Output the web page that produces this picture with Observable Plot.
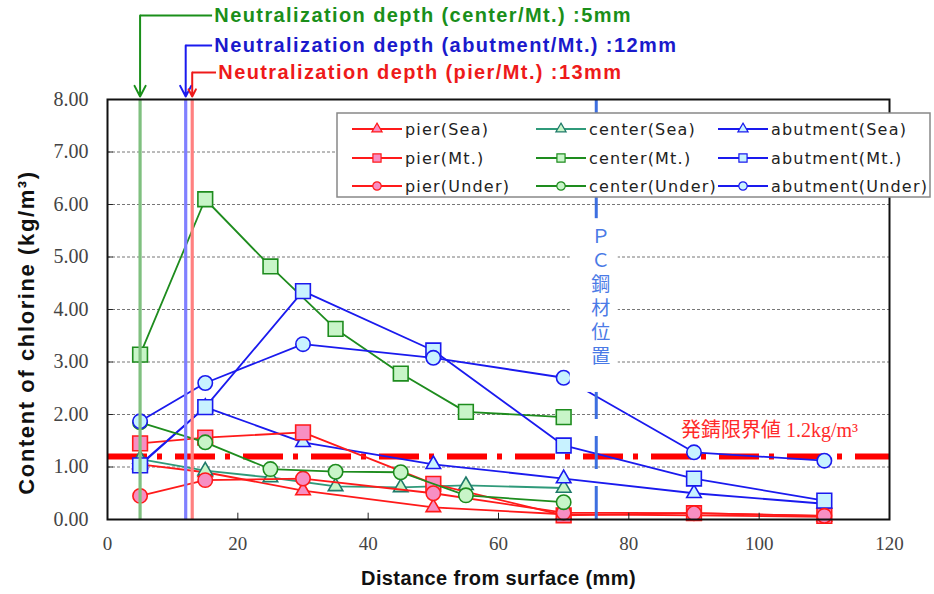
<!DOCTYPE html>
<html><head><meta charset="utf-8">
<script src="https://cdn.jsdelivr.net/npm/d3@7"></script>
<script src="https://cdn.jsdelivr.net/npm/@observablehq/plot@0.6"></script>
<style>body{margin:0;background:#fff}</style>
</head><body><div id="chart"></div>
<script>
// ---- data ----
const pierDepths   = [5, 15, 30, 50, 70, 90, 110];
const centerDepths = [5, 15, 25, 35, 45, 55, 70];
const abutDepths   = [5, 15, 30, 50, 70, 90, 110];

const pierSea     = [1.05, 0.90, 0.55, 0.23, 0.10, 0.08, 0.05];
const pierMt      = [1.45, 1.56, 1.66, 0.68, 0.08, 0.12, 0.07];
const pierUnder   = [0.45, 0.75, 0.78, 0.50, 0.13, 0.12, 0.07];
const centerSea   = [1.15, 0.93, 0.80, 0.63, 0.61, 0.65, 0.60];
const centerMt    = [3.14, 6.10, 4.82, 3.63, 2.78, 2.05, 1.95];
const centerUnder = [1.85, 1.47, 0.96, 0.91, 0.90, 0.46, 0.33];
const abutSea     = [1.05, 2.14, 1.47, 1.05, 0.78, 0.50, 0.30];
const abutMt      = [1.03, 2.14, 4.35, 3.22, 1.41, 0.78, 0.36];
const abutUnder   = [1.87, 2.60, 3.34, 3.08, 2.70, 1.28, 1.12];

const xTicks = [0, 20, 40, 60, 80, 100, 120];
const yTicks = [0, 1, 2, 3, 4, 5, 6, 7, 8];

const neutralDepths = [5, 12, 13];
const neutralLabels = [
  "Neutralization depth (center/Mt.) :5mm",
  "Neutralization depth (abutment/Mt.) :12mm",
  "Neutralization depth (pier/Mt.) :13mm"
];
const pcPosition = 75;
const pcLabel = "ＰＣ鋼材位置";
const threshold = 1.2;
const thresholdLabel = "発錆限界値 1.2kg/m³";

// ---- styles ----
const RED = "#ff1a1a", PINK = "#f78fc3";
const TEAL = "#2f9a7a", TEALDK = "#1f7a6a", LGREEN = "#c8f5c8";
const GREEN = "#1e8c1e";
const BLUE = "#1a1aee", LCYAN = "#c8f2ff";

const series = [
  {name: "pier(Sea)",       xs: pierDepths,   ys: pierSea,     line: RED,   stroke: RED,    fill: PINK,   symbol: "triangle"},
  {name: "center(Sea)",     xs: centerDepths, ys: centerSea,   line: TEAL,  stroke: TEALDK, fill: LGREEN, symbol: "triangle"},
  {name: "abutment(Sea)",   xs: abutDepths,   ys: abutSea,     line: BLUE,  stroke: BLUE,   fill: LCYAN,  symbol: "triangle"},
  {name: "pier(Mt.)",       xs: pierDepths,   ys: pierMt,      line: RED,   stroke: RED,    fill: PINK,   symbol: "square"},
  {name: "center(Mt.)",     xs: centerDepths, ys: centerMt,    line: GREEN, stroke: GREEN,  fill: LGREEN, symbol: "square"},
  {name: "abutment(Mt.)",   xs: abutDepths,   ys: abutMt,      line: BLUE,  stroke: BLUE,   fill: LCYAN,  symbol: "square"},
  {name: "pier(Under)",     xs: pierDepths,   ys: pierUnder,   line: RED,   stroke: RED,    fill: PINK,   symbol: "circle"},
  {name: "center(Under)",   xs: centerDepths, ys: centerUnder, line: GREEN, stroke: GREEN,  fill: LGREEN, symbol: "circle"},
  {name: "abutment(Under)", xs: abutDepths,   ys: abutUnder,   line: BLUE,  stroke: BLUE,   fill: LCYAN,  symbol: "circle"}
];
const symR = {triangle: 5.4, square: 8.3, circle: 7.2};
const neutralColors = ["#7fc07f", "#8080ff", "#ff8080"];
const neutralTextColors = ["#1a8f1a", "#1a1acc", "#ee1a1a"];
const neutralArrowColors = ["#1a8f1a", "#1a1aee", "#ee1a1a"];

const W = 934, H = 594;
const mL = 107, mR = 45, mT = 99, mB = 75;
const ypx = v => 8 + (mT - v) / ((H - mT - mB) / 8); // pixel row above frame -> y value

const marks = [];
// grid
marks.push(Plot.ruleY(yTicks.filter(d => d > 0 && d < 8), {stroke: "#777", strokeWidth: 1, strokeDasharray: "3,2"}));
// threshold line
marks.push(Plot.ruleY([threshold], {stroke: "#ff0000", strokeWidth: 6, strokeDasharray: "40,10,5,13"}));
// series
for (const s of series) {
  const data = s.xs.map((x, i) => ({x, y: s.ys[i]}));
  marks.push(Plot.line(data, {x: "x", y: "y", stroke: s.line, strokeWidth: 1.8}));
  marks.push(Plot.dot(data, {x: "x", y: "y", symbol: s.symbol, r: symR[s.symbol], fill: s.fill, stroke: s.stroke, strokeWidth: 1.6}));
}
// neutralization vertical lines
neutralDepths.forEach((d, i) => {
  marks.push(Plot.ruleX([d], {y1: 0, y2: 8, stroke: neutralColors[i], strokeWidth: 3.2}));
});
// PC steel dashed line
marks.push(Plot.ruleX([pcPosition], {y1: 0, y2: 8, stroke: "#3d6fe0", strokeWidth: 3, strokeDasharray: "33,17"}));
// inner ticks
marks.push(Plot.ruleX(xTicks.filter(d => d > 0 && d < 120), {y1: 0, y2: 0.12, stroke: "#222", strokeWidth: 1}));
marks.push(Plot.ruleY(yTicks.filter(d => d > 0 && d < 8), {x1: 0, x2: 0.9, stroke: "#222", strokeWidth: 1}));
// frame
marks.push(Plot.frame({stroke: "#111", strokeWidth: 2}));
// axes
marks.push(Plot.axisY({ticks: yTicks, tickFormat: d3.format(".2f"), tickSize: 0, tickPadding: 19, label: null,
  fontSize: 20, fontFamily: "Liberation Serif, serif", fill: "#444"}));
marks.push(Plot.axisX({ticks: xTicks, tickSize: 0, tickPadding: 17, label: null,
  fontSize: 19, fontFamily: "Liberation Serif, serif", fill: "#444"}));
// axis titles
marks.push(Plot.text(["Content of chlorine (kg/m³)"], {frameAnchor: "left", textAnchor: "middle", dx: -81, dy: 23, rotate: -90,
  fontSize: 22, fontWeight: "bold", fontFamily: "Liberation Sans, sans-serif", fill: "#111"}));
marks.push(Plot.text(["Distance from surface (mm)"], {frameAnchor: "bottom", dy: 65,
  fontSize: 20, fontWeight: "bold", fontFamily: "Liberation Sans, sans-serif", fill: "#111"}));
// threshold label
marks.push(Plot.text([thresholdLabel], {x: 88, y: threshold, dy: -26, textAnchor: "start",
  fontSize: 20, fontFamily: "Liberation Serif, Noto Sans CJK JP, serif", fill: "#ff2a2a"}));
// neutralization annotations above the frame
const annRows = [15, 45, 72];
const annTextX = [16.4, 16.4, 17.0];
neutralDepths.forEach((d, i) => {
  const yv = ypx(annRows[i]);
  marks.push(Plot.link([0], {x1: d, x2: annTextX[i] - 0.35, y1: yv, y2: yv, stroke: neutralArrowColors[i], strokeWidth: 2}));
  marks.push(Plot.arrow([0], {x1: d, x2: d, y1: yv, y2: ypx(96), stroke: neutralArrowColors[i], strokeWidth: 2, headLength: 9, headAngle: 55}));
  marks.push(Plot.text([neutralLabels[i]], {x: annTextX[i], y: yv, textAnchor: "start", fontSize: 20, fontWeight: "bold",
    fontFamily: "Liberation Sans, sans-serif", fill: neutralTextColors[i]}));
});

const plot = Plot.plot({
  width: W, height: H,
  marginLeft: mL, marginRight: mR, marginTop: mT, marginBottom: mB,
  x: {domain: [0, 120], ticks: xTicks},
  y: {domain: [0, 8], ticks: yTicks},
  style: {background: "#fff", overflow: "visible"},
  marks
});
document.getElementById("chart").appendChild(plot);

const svg = d3.select(plot);
// letter spacing tweaks for annotation / title texts
svg.selectAll("text").filter(function() { return this.textContent.startsWith("Neutralization"); })
  .style("letter-spacing", "1.4px");
svg.selectAll("text").filter(function() { return this.textContent.startsWith("Content of"); })
  .style("letter-spacing", "1.6px");
svg.selectAll("text").filter(function() { return this.textContent.startsWith("Distance"); })
  .style("letter-spacing", "0.4px");

// ---- overlays: PC label box and legend ----
const sx = plot.scale("x"), sy = plot.scale("y");
const pcX = sx.apply(pcPosition);
const g1 = svg.append("g");
g1.append("rect").attr("x", pcX - 26).attr("y", sy.apply(5.73)).attr("width", 48)
  .attr("height", sy.apply(2.42) - sy.apply(5.73)).attr("fill", "#fff");
g1.append("text").attr("x", pcX + 5).attr("y", sy.apply(5.73) + 8)
  .attr("text-anchor", "start").style("writing-mode", "vertical-rl").style("letter-spacing", "5px")
  .attr("font-size", 19).attr("font-family", "Noto Sans CJK JP, sans-serif").attr("fill", "#4a7ae6").text(pcLabel);

const lg = svg.append("g");
const boxX = 337, boxY = 113, boxW = 593, boxH = 84;
lg.append("rect").attr("x", boxX).attr("y", boxY).attr("width", boxW).attr("height", boxH)
  .attr("fill", "#fff").attr("stroke", "#888").attr("stroke-width", 1.5);
const colX = [352, 536, 718];
const rowY = [129, 158, 186];
const legR = {triangle: 3.8, square: 4.6, circle: 4.2};
const symType = {triangle: d3.symbolTriangle, square: d3.symbolSquare, circle: d3.symbolCircle};
series.forEach((s, k) => {
  const c = k % 3, r = Math.floor(k / 3);
  const x0 = colX[c], y0 = rowY[r];
  lg.append("line").attr("x1", x0).attr("x2", x0 + 50).attr("y1", y0).attr("y2", y0)
    .attr("stroke", s.line).attr("stroke-width", 1.8);
  lg.append("path").attr("d", d3.symbol().type(symType[s.symbol]).size(Math.PI * legR[s.symbol] ** 2)())
    .attr("transform", `translate(${x0 + 25},${y0})`).attr("fill", s.fill).attr("stroke", s.stroke).attr("stroke-width", 1.2);
  lg.append("text").attr("x", x0 + 53).attr("y", y0).attr("dy", "0.35em").attr("text-anchor", "start")
    .style("letter-spacing", "1.2px")
    .attr("font-size", 16).attr("font-family", "DejaVu Sans, sans-serif").attr("fill", "#222").text(s.name);
});
</script>
</body></html>
